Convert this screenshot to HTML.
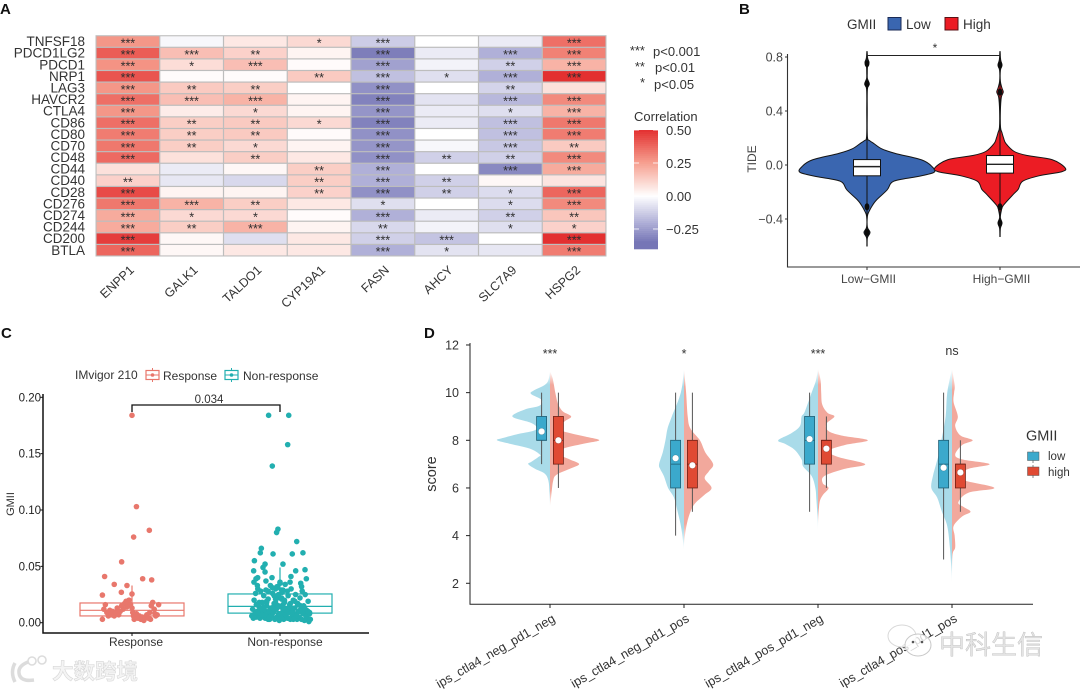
<!DOCTYPE html>
<html lang="en">
<head>
<meta charset="utf-8">
<title>GMII immune correlation figure</title>
<style>
  html, body { margin: 0; padding: 0; background: #ffffff; }
  svg { display: block; filter: blur(0.35px); }
  text { font-family: "Liberation Sans", "Noto Sans CJK SC", sans-serif; }
</style>
</head>
<body>
<svg id="figure" xmlns="http://www.w3.org/2000/svg" width="1080" height="691" viewBox="0 0 1080 691">
  <defs>
    <linearGradient id="fadeLow" x1="0" y1="0" x2="0" y2="1">
      <stop offset="0" stop-color="#A9DBE9" stop-opacity="0"/>
      <stop offset="0.1" stop-color="#A9DBE9" stop-opacity="1"/>
      <stop offset="0.88" stop-color="#A9DBE9" stop-opacity="1"/>
      <stop offset="1" stop-color="#A9DBE9" stop-opacity="0"/>
    </linearGradient>
    <linearGradient id="fadeHigh" x1="0" y1="0" x2="0" y2="1">
      <stop offset="0" stop-color="#F2A89C" stop-opacity="0"/>
      <stop offset="0.1" stop-color="#F2A89C" stop-opacity="1"/>
      <stop offset="0.88" stop-color="#F2A89C" stop-opacity="1"/>
      <stop offset="1" stop-color="#F2A89C" stop-opacity="0"/>
    </linearGradient>
  </defs>
  <rect x="0" y="0" width="1080" height="691" fill="#ffffff"/>

  <text x="0" y="14" font-size="15" font-weight="bold" fill="#111">A</text>
  <text x="739" y="14" font-size="15" font-weight="bold" fill="#111">B</text>
  <text x="1" y="338" font-size="15" font-weight="bold" fill="#111">C</text>
  <text x="424" y="338" font-size="15" font-weight="bold" fill="#111">D</text>

  <g id="panel-a"></g>
  <g font-size="13" fill="#333">
    <text x="645" y="55" text-anchor="end">***</text>
    <text x="653" y="56">p&lt;0.001</text>
    <text x="645" y="71" text-anchor="end">**</text>
    <text x="655" y="72">p&lt;0.01</text>
    <text x="645" y="87" text-anchor="end">*</text>
    <text x="654" y="89">p&lt;0.05</text>
    <text x="634" y="121">Correlation</text>
  </g>
  <g id="colorbar"></g>

  <g id="panel-b"></g>
  <g id="panel-c"></g>
  <g id="panel-d"></g>

  <g>
    <path d="M15 663 Q10 672 15 682 M28 662 Q18 666 19 673 Q20 682 34 680" fill="none" stroke="#dcdcdc" stroke-width="3.5"/>
    <circle cx="32" cy="661" r="4" fill="none" stroke="#dcdcdc" stroke-width="1.6"/>
    <circle cx="42" cy="660" r="4" fill="none" stroke="#dcdcdc" stroke-width="1.6"/>
    <text x="52" y="679" font-size="21.5" font-weight="bold" fill="#f4f4f4" stroke="#d8d8d8" stroke-width="0.6">大数跨境</text>
  </g>
  <g>
    <ellipse cx="902" cy="636" rx="14" ry="11" fill="#ffffff" fill-opacity="0.85" stroke="#d8d8d8" stroke-width="1"/>
    <ellipse cx="918" cy="645" rx="13" ry="11" fill="#ffffff" fill-opacity="0.8" stroke="#c8c8c8" stroke-width="1"/>
    <circle cx="913" cy="642" r="1.3" fill="#555"/>
    <circle cx="922" cy="642" r="1.3" fill="#555"/>
    <text x="939" y="654" font-size="26" fill="#e4e4e4" stroke="#adadad" stroke-width="0.3">中科生信</text>
  </g>
</svg>

<script>
/* ---------- Panel A data ---------- */
const heatGenes = ["TNFSF18","PDCD1LG2","PDCD1","NRP1","LAG3","HAVCR2","CTLA4","CD86","CD80","CD70","CD48","CD44","CD40","CD28","CD276","CD274","CD244","CD200","BTLA"];
const heatColumns = ["ENPP1","GALK1","TALDO1","CYP19A1","FASN","AHCY","SLC7A9","HSPG2"];
const heatValues = [
  [0.27,-0.02,0.06,0.10,-0.13,0.00,-0.05,0.36],
  [0.40,0.17,0.12,0.03,-0.33,-0.05,-0.20,0.32],
  [0.28,0.09,0.17,0.01,-0.24,-0.03,-0.12,0.20],
  [0.42,0.01,0.01,0.14,-0.16,-0.08,-0.20,0.50],
  [0.27,0.14,0.13,0.00,-0.28,0.00,-0.11,0.08],
  [0.36,0.17,0.20,0.03,-0.32,-0.07,-0.18,0.30],
  [0.27,0.05,0.10,0.03,-0.27,-0.05,-0.08,0.20],
  [0.36,0.13,0.14,0.10,-0.32,-0.05,-0.16,0.34],
  [0.33,0.13,0.14,0.01,-0.28,0.00,-0.16,0.33],
  [0.34,0.13,0.10,0.03,-0.27,-0.02,-0.14,0.14],
  [0.37,0.08,0.13,0.06,-0.28,-0.12,-0.12,0.30],
  [0.08,-0.05,0.02,0.13,-0.20,0.00,-0.30,0.22],
  [0.12,-0.06,-0.10,0.13,-0.20,-0.12,0.02,0.07],
  [0.44,0.03,0.03,0.12,-0.28,-0.12,-0.09,0.38],
  [0.34,0.20,0.13,0.06,-0.08,0.00,-0.09,0.30],
  [0.22,0.10,0.10,0.01,-0.20,-0.05,-0.12,0.15],
  [0.22,0.13,0.20,0.03,-0.10,-0.03,-0.08,0.12],
  [0.47,0.02,-0.08,0.06,-0.12,-0.15,0.00,0.50],
  [0.38,0.02,0.06,0.06,-0.20,-0.07,-0.06,0.33]
];
const heatStars = [
  ["***","","","*","***","","","***"],
  ["***","***","**","","***","","***","***"],
  ["***","*","***","","***","","**","***"],
  ["***","","","**","***","*","***","***"],
  ["***","**","**","","***","","**",""],
  ["***","***","***","","***","","***","***"],
  ["***","","*","","***","","*","***"],
  ["***","**","**","*","***","","***","***"],
  ["***","**","**","","***","","***","***"],
  ["***","**","*","","***","","***","**"],
  ["***","","**","","***","**","**","***"],
  ["","","","**","***","","***","***"],
  ["**","","","**","***","**","",""],
  ["***","","","**","***","**","*","***"],
  ["***","***","**","","*","","*","***"],
  ["***","*","*","","***","","**","**"],
  ["***","**","***","","**","","*","*"],
  ["***","","","","***","***","","***"],
  ["***","","","","***","*","","***"]
];
const colorbarTicks = [0.5, 0.25, 0, -0.25];
const colorbarTickLabels = ["0.50","0.25","0.00","\u22120.25"];

/* ---------- Panel B data ---------- */
const tideTicks = [0.8, 0.4, 0, -0.4];
const tideTickLabels = ["0.8","0.4","0.0","\u22120.4"];
const tideGroups = ["Low\u2212GMII","High\u2212GMII"];
const tideLowScore = [0.84,0.79,0.76,0.73,0.68,0.64,0.60,0.56,0.4,0.21,0.18,0.16,0.12,0.086,0.037,-0.012,-0.054,-0.086,-0.12,-0.185,-0.26,-0.30,-0.345,-0.38,-0.46,-0.50,-0.54,-0.6];
const tideLowDensity = [0.002,0.01,0.03,0.008,0.004,0.006,0.035,0.006,0.004,0.006,0.04,0.1,0.22,0.42,0.82,0.97,1.0,0.75,0.4,0.3,0.14,0.08,0.03,0.006,0.006,0.045,0.006,0.002];
const tideHighScore = [0.84,0.78,0.74,0.70,0.62,0.57,0.54,0.50,0.4,0.28,0.24,0.20,0.16,0.10,0.07,0.04,-0.02,-0.05,-0.08,-0.12,-0.18,-0.22,-0.30,-0.34,-0.39,-0.43,-0.47,-0.53];
const tideHighDensity = [0.002,0.01,0.03,0.006,0.006,0.03,0.05,0.02,0.006,0.008,0.03,0.055,0.09,0.22,0.42,0.8,1.0,0.95,0.6,0.35,0.28,0.2,0.05,0.02,0.006,0.03,0.006,0.002];
const tideLowBox = { q1: -0.08, median: -0.012, q3: 0.04 };
const tideHighBox = { q1: -0.06, median: 0.005, q3: 0.07 };
const tideLowOutliers = [0.75, 0.6, -0.31, -0.5];
const tideHighOutliers = [0.74, 0.54, -0.31, -0.43];

/* ---------- Panel C data ---------- */
const gmiiTicks = [0.20, 0.15, 0.10, 0.05, 0.00];
const gmiiTickLabels = ["0.20","0.15","0.10","0.05","0.00"];
const responseBox = { q1: 0.006, median: 0.011, q3: 0.0175, whisker: 0.033 };
const nonResponseBox = { q1: 0.0085, median: 0.0145, q3: 0.0255, whisker: 0.049 };
const responseJitter = [0,0.03,0.011,0.117,-0.07,-0.185,-0.12,-0.034,0.072,0.133,-0.072,-0.2,0,-0.19,-0.18,-0.17,-0.2,-0.16,-0.15,-0.14,-0.13,-0.12,-0.11,-0.10,-0.09,-0.05,-0.04,-0.03,-0.02,-0.035,-0.06,-0.01,0,0.005,0.01,0.015,0.025,0.03,0.04,0.05,0.06,0.07,0.08,0.09,0.10,0.11,0.12,0.125,0.13,0.14,0.15,0.155,0.16,0.17,0.18,-0.07,-0.08];
const responseValues = [0.184,0.103,0.076,0.082,0.054,0.041,0.034,0.033,0.039,0.038,0.027,0.0245,0.0255,0.012,0.016,0.009,0.003,0.006,0.011,0.007,0.010,0.006,0.009,0.013,0.007,0.017,0.019,0.018,0.020,0.014,0.012,0.016,0.013,0.009,0.006,0.003,0.005,0.008,0.004,0.006,0.003,0.005,0.002,0.005,0.007,0.004,0.009,0.003,0.015,0.018,0.012,0.008,0.006,0.007,0.016,0.015,0.010];
const nonResponseJitter = [-0.077,0.059,0.052,-0.052,-0.014,-0.023,0.113,-0.126,-0.133,-0.047,0.083,0.155,-0.173,-0.101,0.02,-0.115,-0.178,-0.101,0.106,0.169,-0.151,-0.162,-0.054,0.074,0.178,-0.176,-0.095,0.068,0.14,-0.153,0.146,
  -0.19,-0.185,-0.18,-0.175,-0.17,-0.165,-0.16,-0.155,-0.15,-0.145,-0.14,-0.135,-0.13,-0.125,-0.12,-0.115,-0.11,-0.105,-0.10,-0.095,-0.09,-0.085,-0.08,-0.075,-0.07,-0.065,-0.06,-0.055,-0.05,-0.045,-0.04,-0.035,-0.03,-0.025,-0.02,-0.015,-0.01,-0.005,0,0.005,0.01,0.015,0.02,0.025,0.03,0.035,0.04,0.045,0.05,0.055,0.06,0.065,0.07,0.075,0.08,0.085,0.09,0.095,0.10,0.105,0.11,0.115,0.12,0.125,0.13,0.135,0.14,0.145,0.15,0.155,0.16,0.165,0.17,0.175,0.18,0.185,0.19,0.195,0.2,0.205,
  -0.16,-0.12,-0.09,-0.06,-0.03,0,0.03,0.06,0.09,0.12,0.15,-0.14,-0.1,-0.07,-0.04,-0.02,0.01,0.04,0.07,0.1,0.13,0.16,-0.08,-0.05,-0.01,0.02,0.05,-0.06,-0.03,0.01,0.03,
  -0.04,-0.02,0,0.02,-0.03,-0.01,0.01,-0.05,0.03,-0.11,-0.09,0.08,0.1,-0.13,0.12,-0.15,0.14,-0.17,0.17,-0.19,0.19,-0.07,0.06,-0.12,0.11,-0.08,0.09,-0.18,0.18,0.2];
const nonResponseValues = [0.184,0.184,0.158,0.139,0.083,0.080,0.072,0.066,0.062,0.061,0.061,0.062,0.055,0.052,0.052,0.049,0.046,0.045,0.046,0.047,0.040,0.039,0.040,0.041,0.039,0.036,0.037,0.036,0.035,0.033,0.032,
  0.006,0.012,0.004,0.020,0.008,0.026,0.005,0.010,0.030,0.007,0.014,0.004,0.028,0.009,0.018,0.006,0.024,0.011,0.004,0.029,0.015,0.007,0.021,0.010,0.003,0.033,0.013,0.006,0.026,0.009,0.017,0.003,0.030,0.012,0.005,0.022,0.008,0.002,0.035,0.014,0.006,0.027,0.010,0.003,0.019,0.034,0.007,0.012,0.004,0.024,0.009,0.016,0.003,0.030,0.011,0.006,0.020,0.004,0.013,0.025,0.007,0.003,0.017,0.010,0.005,0.022,0.012,0.003,0.028,0.008,0.015,0.002,0.025,0.006,0.011,0.004,0.019,0.001,0.008,0.003,
  0.016,0.009,0.019,0.012,0.023,0.008,0.018,0.013,0.009,0.016,0.012,0.018,0.007,0.011,0.015,0.032,0.021,0.011,0.017,0.006,0.010,0.014,0.028,0.031,0.025,0.016,0.028,0.006,0.018,0.029,0.012,
  0.024,0.031,0.036,0.029,0.021,0.015,0.022,0.013,0.020,0.014,0.018,0.013,0.019,0.012,0.016,0.009,0.015,0.008,0.012,0.006,0.010,0.005,0.004,0.007,0.006,0.003,0.003,0.005,0.006,0.009];

/* ---------- Panel D data ---------- */
const ipsGroups = ["ips_ctla4_neg_pd1_neg","ips_ctla4_neg_pd1_pos","ips_ctla4_pos_pd1_neg","ips_ctla4_pos_pd1_pos"];
const ipsSignificance = ["***","*","***","ns"];
const scoreTicks = [12,10,8,6,4,2];
const ipsScale1Low = [[10.9,0],[10.4,0.06],[10.1,0.3],[9.95,0.36],[9.7,0.16],[9.45,0.2],[9.3,0.47],[9.0,0.71],[8.75,0.38],[8.55,0.25],[8.4,0.31],[8.25,0.63],[8.1,0.88],[8.0,1.0],[7.85,0.75],[7.65,0.38],[7.4,0.19],[7.3,0.22],[7.1,0.35],[7.0,0.41],[6.8,0.28],[6.6,0.1],[6.3,0.03],[5.8,0.01],[5.2,0]];
const ipsScale1High = [[10.9,0],[10.6,0.05],[10.0,0.1],[9.6,0.14],[9.4,0.18],[9.2,0.25],[9.0,0.4],[8.8,0.28],[8.5,0.12],[8.3,0.38],[8.15,0.68],[8.0,0.93],[7.85,0.62],[7.65,0.25],[7.4,0.19],[7.2,0.37],[7.0,0.55],[6.8,0.37],[6.55,0.12],[6.3,0.06],[5.8,0.03],[5.2,0]];
const ipsScale2Low = [[11,0],[10,0.06],[9,0.23],[8.5,0.31],[8,0.35],[7.5,0.4],[7,0.47],[6.8,0.45],[6.5,0.38],[6,0.3],[5.6,0.19],[5,0.12],[4.3,0.05],[3.4,0]];
const ipsScale2High = [[11,0],[10,0.04],[9,0.07],[8.5,0.12],[8,0.3],[7.5,0.4],[7,0.55],[6.7,0.47],[6.4,0.39],[6,0.52],[5.7,0.38],[5.3,0.19],[4.8,0.09],[4.2,0.03],[3.6,0]];
const ipsScale3Low = [[11,0],[10.5,0.04],[10,0.12],[9.2,0.25],[9,0.31],[8.6,0.34],[8.3,0.5],[8,0.75],[7.85,0.62],[7.6,0.44],[7.2,0.31],[6.9,0.28],[6.5,0.12],[6,0.05],[5.5,0.03],[4.8,0.01],[4.2,0]];
const ipsScale3High = [[11,0],[10.5,0.05],[10,0.06],[9.5,0.08],[9.15,0.18],[9,0.31],[8.7,0.16],[8.4,0.19],[8.2,0.44],[8,0.94],[7.8,0.5],[7.55,0.19],[7.3,0.38],[7,0.89],[6.8,0.5],[6.5,0.12],[6.2,0.09],[6,0.2],[5.7,0.09],[5.4,0.03],[4.8,0.01],[4.4,0]];
const ipsScale4Low = [[11,0],[10,0.09],[9,0.12],[8,0.2],[7.5,0.24],[7,0.3],[6.5,0.36],[6,0.39],[5.6,0.28],[5,0.19],[4.4,0.09],[3.5,0.04],[2.5,0.01],[2,0]];
const ipsScale4High = [[11,0],[10.3,0.05],[10,0.04],[9.6,0.03],[9,0.11],[8.6,0.06],[8.2,0.16],[8,0.39],[7.8,0.19],[7.4,0.06],[7.2,0.19],[7,0.71],[6.8,0.31],[6.5,0.12],[6.3,0.25],[6,0.8],[5.8,0.31],[5.4,0.12],[5.2,0.22],[5,0.35],[4.8,0.19],[4.4,0.03],[4,0.05],[3.5,0.06],[3.2,0.01],[2.2,0]];
const ipsLowDensities = [ipsScale1Low, ipsScale2Low, ipsScale3Low, ipsScale4Low];
const ipsHighDensities = [ipsScale1High, ipsScale2High, ipsScale3High, ipsScale4High];
const ipsLowBoxes = [
  { lo: 7, q1: 8, med: 8, q3: 9, hi: 10, mean: 8.37 },
  { lo: 4, q1: 6, med: 7, q3: 8, hi: 10, mean: 7.25 },
  { lo: 5, q1: 7, med: 8, q3: 9, hi: 10, mean: 8.05 },
  { lo: 3, q1: 6, med: 7, q3: 8, hi: 10, mean: 6.85 }
];
const ipsHighBoxes = [
  { lo: 6, q1: 7, med: 8, q3: 9, hi: 10, mean: 8.0 },
  { lo: 5, q1: 6, med: 7, q3: 8, hi: 10, mean: 6.95 },
  { lo: 6, q1: 7, med: 8, q3: 8, hi: 9, mean: 7.65 },
  { lo: 5, q1: 6, med: 7, q3: 7, hi: 8, mean: 6.65 }
];

/* ---------- Helpers ---------- */
const NS = "http://www.w3.org/2000/svg";
function mk(tag, attrs, parent, txt) {
  const n = document.createElementNS(NS, tag);
  for (const k in attrs) n.setAttribute(k, attrs[k]);
  if (txt !== undefined) n.textContent = txt;
  parent.appendChild(n);
  return n;
}
function lerpColor(a, b, t) {
  return "rgb(" + a.map((v, i) => Math.round(v + (b[i] - v) * t)).join(",") + ")";
}
function corrColor(v) {
  const white = [255,255,255], salmon = [246,160,144], red = [227,48,48], lav = [184,184,220], blue = [118,118,182];
  if (v >= 0.25) return lerpColor(salmon, red, Math.min(1, (v - 0.25) / 0.25));
  if (v >= 0) return lerpColor(white, salmon, v / 0.25);
  if (v >= -0.18) return lerpColor(white, lav, -v / 0.18);
  return lerpColor(lav, blue, Math.min(1, (-v - 0.18) / 0.17));
}
function smoothPath(pts) {
  let d = "M" + pts[0][0].toFixed(2) + " " + pts[0][1].toFixed(2);
  for (let i = 0; i < pts.length - 1; i++) {
    const p0 = pts[Math.max(0, i - 1)], p1 = pts[i], p2 = pts[i + 1], p3 = pts[Math.min(pts.length - 1, i + 2)];
    const c1x = p1[0] + (p2[0] - p0[0]) / 6, c1y = p1[1] + (p2[1] - p0[1]) / 6;
    const c2x = p2[0] - (p3[0] - p1[0]) / 6, c2y = p2[1] - (p3[1] - p1[1]) / 6;
    d += "C" + c1x.toFixed(2) + " " + c1y.toFixed(2) + " " + c2x.toFixed(2) + " " + c2y.toFixed(2) + " " + p2[0].toFixed(2) + " " + p2[1].toFixed(2);
  }
  return d;
}

/* ---------- Panel A ---------- */
(function () {
  const g = document.getElementById("panel-a");
  const left = 96, top = 35.7, colW = 63.75, rowH = 11.595;
  const xA = c => left + c * colW;
  const yA = r => top + r * rowH;
  mk("rect", { x: left - 0.5, y: top - 0.5, width: colW * heatColumns.length + 1, height: rowH * heatGenes.length + 1, fill: "#bdbdbd" }, g);
  heatGenes.forEach((gene, r) => {
    const label = mk("text", { x: 85, y: yA(r) + 10.4, "text-anchor": "end", "font-size": 13.5, fill: "#333" }, g, gene);
    
    
    heatColumns.forEach((col, c) => {
      const cell = mk("rect", { x: xA(c) + 0.6, y: yA(r) + 0.6, width: colW - 1.2, height: rowH - 1.2, fill: corrColor(heatValues[r][c]) }, g);
      
      
      if (heatStars[r][c]) {
        const star = mk("text", { x: xA(c) + colW / 2, y: yA(r) + rowH / 2 + 5.9, "text-anchor": "middle", "font-size": 12.5, fill: "#2e2e2e" }, g, heatStars[r][c]);
        
        
      }
    });
  });
  heatColumns.forEach((col, c) => {
    const cx = xA(c) + colW / 2 + 7, cy = 271;
    const t = mk("text", { x: cx, y: cy, "text-anchor": "end", "font-size": 12.5, fill: "#333", transform: "rotate(-43 " + cx + " " + cy + ")" }, g, col);
    
    
  });

  const bar = document.getElementById("colorbar");
  const yBar = v => 196 - v * 132;
  const steps = 60, vTop = 0.5, vBot = -0.4;
  for (let i = 0; i < steps; i++) {
    const v1 = vTop - (vTop - vBot) * i / steps, v2 = vTop - (vTop - vBot) * (i + 1) / steps;
    const seg = mk("rect", { x: 634, y: yBar(v1), width: 24, height: yBar(v2) - yBar(v1) + 0.5, fill: corrColor((v1 + v2) / 2) }, bar);
    
    
  }
  colorbarTicks.forEach((v, i) => {
    const tl = mk("line", { x1: 634, x2: 639, y1: yBar(v), y2: yBar(v), stroke: "#fff", "stroke-width": 0.8 }, bar);
    
    
    const tr = mk("line", { x1: 653, x2: 658, y1: yBar(v), y2: yBar(v), stroke: "#fff", "stroke-width": 0.8 }, bar);
    
    
    const lab = mk("text", { x: 666, y: yBar(v) + 5, "font-size": 13, fill: "#333" }, bar, colorbarTickLabels[i]);
    
    
  });
})();

/* ---------- Panel B ---------- */
(function () {
  const g = document.getElementById("panel-b");
  const yB = v => 165 - v * 135;
  const xB = [867, 1000];
  const halfW = [67, 65];
  const axis = mk("path", { d: "M787.5 54V267H1080", fill: "none", stroke: "#333", "stroke-width": 1.1 }, g);
  
  
  tideTicks.forEach((v, i) => {
    const tk = mk("line", { x1: 785, x2: 787.5, y1: yB(v), y2: yB(v), stroke: "#333" }, g);
    
    
    const lb = mk("text", { x: 783, y: yB(v) + 4.5, "text-anchor": "end", "font-size": 12.5, fill: "#444" }, g, tideTickLabels[i]);
    
    
  });
  const title = mk("text", { x: 756, y: 159, "text-anchor": "middle", "font-size": 12, fill: "#444", transform: "rotate(-90 756 159)" }, g, "TIDE");
  
  

  const scores = [tideLowScore, tideHighScore];
  const dens = [tideLowDensity, tideHighDensity];
  const fills = ["#3A66B0", "#EC1C24"];
  const boxes = [tideLowBox, tideHighBox];
  const outs = [tideLowOutliers, tideHighOutliers];
  const ends = [[0.84, -0.6], [0.84, -0.53]];
  xB.forEach((cx, k) => {
    const right = scores[k].map((s, i) => [cx + dens[k][i] * halfW[k], yB(s)]);
    const left = scores[k].map((s, i) => [cx - dens[k][i] * halfW[k], yB(s)]).reverse();
    const d = smoothPath(right) + smoothPath(left).replace(/^M/, "L") + "Z";
    const v = mk("path", { d: d, fill: fills[k], stroke: "#151515", "stroke-width": 1 }, g);
    
    
    const wl = mk("line", { x1: cx, x2: cx, y1: yB(ends[k][0]), y2: yB(ends[k][1]), stroke: "#111", "stroke-width": 1 }, g);
    
    
    outs[k].forEach(o => {
      const dot = mk("ellipse", { cx: cx, cy: yB(o), rx: 2.4, ry: 3.6, fill: "#0b0b0b" }, g);
      
      
    });
    const b = boxes[k];
    const box = mk("rect", { x: cx - 13.5, y: yB(b.q3), width: 27, height: yB(b.q1) - yB(b.q3), fill: "#fff", stroke: "#111", "stroke-width": 1 }, g);
    
    
    const med = mk("line", { x1: cx - 13.5, x2: cx + 13.5, y1: yB(b.median), y2: yB(b.median), stroke: "#222", "stroke-width": 1.4 }, g);
    
    
    const tk = mk("line", { x1: cx, x2: cx, y1: 267, y2: 270, stroke: "#333" }, g);
    
    
    const lb = mk("text", { x: cx + 1.5, y: 283, "text-anchor": "middle", "font-size": 12, fill: "#444" }, g, tideGroups[k]);
    
    
  });
  const br = mk("path", { d: "M867 58V55.5H1000V58", fill: "none", stroke: "#222", "stroke-width": 1 }, g);
  
  
  const st = mk("text", { x: 935, y: 52, "text-anchor": "middle", "font-size": 12, fill: "#333" }, g, "*");
  
  
  const lt = mk("text", { x: 847, y: 29, "font-size": 13.5, fill: "#333" }, g, "GMII");
  
  
  const s1 = mk("rect", { x: 888, y: 17.5, width: 13, height: 12.5, fill: fills[0], stroke: "#1a2a55" }, g);
  
  
  const t1 = mk("text", { x: 906, y: 29, "font-size": 13.5, fill: "#333" }, g, "Low");
  
  
  const s2 = mk("rect", { x: 945, y: 17.5, width: 13, height: 12.5, fill: fills[1], stroke: "#5a1114" }, g);
  
  
  const t2 = mk("text", { x: 963, y: 29, "font-size": 13.5, fill: "#333" }, g, "High");
  
  
})();

/* ---------- Panel C ---------- */
(function () {
  const g = document.getElementById("panel-c");
  const yC = v => 622.7 - v * 1127;
  const xC = [132, 280];
  const colors = ["#E8776C", "#22AFB0"];
  const boxes = [responseBox, nonResponseBox];
  const jit = [responseJitter, nonResponseJitter];
  const vals = [responseValues, nonResponseValues];
  const names = ["Response", "Non-response"];
  const labX = [136, 285];
  const axis = mk("path", { d: "M43 394V633H369", fill: "none", stroke: "#111", "stroke-width": 1.5 }, g);
  
  
  gmiiTicks.forEach((v, i) => {
    const tk = mk("line", { x1: 40.5, x2: 43, y1: yC(v), y2: yC(v), stroke: "#111" }, g);
    
    
    const lb = mk("text", { x: 41, y: yC(v) + 4, "text-anchor": "end", "font-size": 11.5, fill: "#222" }, g, gmiiTickLabels[i]);
    
    
  });
  const yt = mk("text", { x: 14, y: 504, "text-anchor": "middle", "font-size": 11, fill: "#333", transform: "rotate(-90 14 504)" }, g, "GMII");
  
  
  xC.forEach((cx, k) => {
    const b = boxes[k];
    const wh = mk("line", { x1: cx, x2: cx, y1: yC(b.q3), y2: yC(b.whisker), stroke: colors[k], "stroke-width": 1.2 }, g);
    
    
    const bx = mk("rect", { x: cx - 52, y: yC(b.q3), width: 104, height: yC(b.q1) - yC(b.q3), fill: "none", stroke: colors[k], "stroke-width": 1.2 }, g);
    
    
    const md = mk("line", { x1: cx - 52, x2: cx + 52, y1: yC(b.median), y2: yC(b.median), stroke: colors[k], "stroke-width": 1.2 }, g);
    
    
    vals[k].forEach((v, i) => {
      const p = mk("circle", { cx: cx + jit[k][i] * 148, cy: yC(v), r: 2.8, fill: colors[k] }, g);
      
      
    });
    const tk = mk("line", { x1: cx, x2: cx, y1: 633, y2: 636, stroke: "#111" }, g);
    
    
    const lb = mk("text", { x: labX[k], y: 646, "text-anchor": "middle", "font-size": 12, fill: "#333" }, g, names[k]);
    
    
  });
  const br = mk("path", { d: "M132 412V405H280V412", fill: "none", stroke: "#111", "stroke-width": 1.3 }, g);
  
  
  const pv = mk("text", { x: 209, y: 403, "text-anchor": "middle", "font-size": 11.5, fill: "#333" }, g, "0.034");
  
  
  const lt = mk("text", { x: 75, y: 379, "font-size": 12, fill: "#333" }, g, "IMvigor 210");
  
  
  const keyX = [146, 225], txtX = [163, 243];
  names.forEach((nm, k) => {
    const ln = mk("line", { x1: keyX[k] + 6.5, x2: keyX[k] + 6.5, y1: 368, y2: 382, stroke: colors[k], "stroke-width": 1 }, g);
    
    
    const key = mk("rect", { x: keyX[k], y: 370.5, width: 13, height: 9, fill: "#fff", stroke: colors[k], "stroke-width": 1.2 }, g);
    
    
    const ml = mk("line", { x1: keyX[k], x2: keyX[k] + 13, y1: 375, y2: 375, stroke: colors[k], "stroke-width": 1 }, g);
    
    
    const kd = mk("circle", { cx: keyX[k] + 6.5, cy: 375, r: 1.8, fill: colors[k] }, g);
    
    
    const tx = mk("text", { x: txtX[k], y: 380, "font-size": 12, fill: "#333" }, g, nm);
    
    
  });
})();

/* ---------- Panel D ---------- */
(function () {
  const g = document.getElementById("panel-d");
  const yD = v => 440.3 - (v - 8) * 23.83;
  const xD = i => 550 + i * 134;
  const widthScale = 53;
  const lowBox = "#3BA9CC", highBox = "#E04A33";
  ipsGroups.forEach((name, i) => {
    const cx = xD(i);
    const lowPts = ipsLowDensities[i].map(p => [cx - p[1] * widthScale, yD(p[0])]);
    const vl = mk("path", { d: smoothPath(lowPts) + "Z", fill: "url(#fadeLow)" }, g);
    
    
    const highPts = ipsHighDensities[i].map(p => [cx + p[1] * widthScale, yD(p[0])]);
    const vh = mk("path", { d: smoothPath(highPts) + "Z", fill: "url(#fadeHigh)" }, g);
    
    
    [[ipsLowBoxes[i], -8.4, lowBox, "#1f5f75"], [ipsHighBoxes[i], 8.4, highBox, "#6f2015"]].forEach(spec => {
      const b = spec[0], bx = cx + spec[1];
      const w = mk("line", { x1: bx, x2: bx, y1: yD(b.hi), y2: yD(b.lo), stroke: "#555", "stroke-width": 1 }, g);
      
      
      const r = mk("rect", { x: bx - 5, y: yD(b.q3), width: 10, height: yD(b.q1) - yD(b.q3), fill: spec[2], stroke: spec[3], "stroke-width": 0.8 }, g);
      
      
      const m = mk("line", { x1: bx - 5, x2: bx + 5, y1: yD(b.med), y2: yD(b.med), stroke: spec[3], "stroke-width": 0.8 }, g);
      
      
      const c = mk("circle", { cx: bx, cy: yD(b.mean), r: 3.3, fill: "#fff", stroke: spec[3], "stroke-width": 0.3 }, g);
      
      
    });
    const sig = mk("text", { x: cx, y: i === 3 ? 355 : 358, "text-anchor": "middle", "font-size": 12.5, fill: "#333" }, g, ipsSignificance[i]);
    
    
    const tk = mk("line", { x1: cx, x2: cx, y1: 604.3, y2: 608, stroke: "#222", "stroke-width": 1 }, g);
    
    
    const lx = cx + 6, ly = 621;
    const lb = mk("text", { x: lx, y: ly, "text-anchor": "end", "font-size": 12.7, fill: "#333", transform: "rotate(-30 " + lx + " " + ly + ")" }, g, name);
    
    
  });
  const axis = mk("path", { d: "M470 343V604.3H1033", fill: "none", stroke: "#222", "stroke-width": 1 }, g);
  
  
  scoreTicks.forEach(v => {
    const tk = mk("line", { x1: 466, x2: 470, y1: yD(v), y2: yD(v), stroke: "#222" }, g);
    
    
    const lb = mk("text", { x: 459, y: yD(v) + 4.5, "text-anchor": "end", "font-size": 12.5, fill: "#333" }, g, String(v));
    
    
  });
  const yt = mk("text", { x: 436, y: 474, "text-anchor": "middle", "font-size": 14.5, fill: "#333", transform: "rotate(-90 436 474)" }, g, "score");
  
  
  const lt = mk("text", { x: 1026, y: 440.5, "font-size": 14.5, fill: "#333" }, g, "GMII");
  
  
  [["low", lowBox, 452, 460], ["high", highBox, 467, 476]].forEach(e => {
    const wk = mk("line", { x1: 1033, x2: 1033, y1: e[2] - 2, y2: e[2] + 11, stroke: "#666", "stroke-width": 0.8 }, g);
    
    
    const k = mk("rect", { x: 1027.5, y: e[2], width: 11.5, height: 8.5, fill: e[1], stroke: "#555", "stroke-width": 0.5 }, g);
    
    
    const tx = mk("text", { x: 1048, y: e[3], "font-size": 11.5, fill: "#333" }, g, e[0]);
    
    
  });
})();
</script>
</body>
</html>
